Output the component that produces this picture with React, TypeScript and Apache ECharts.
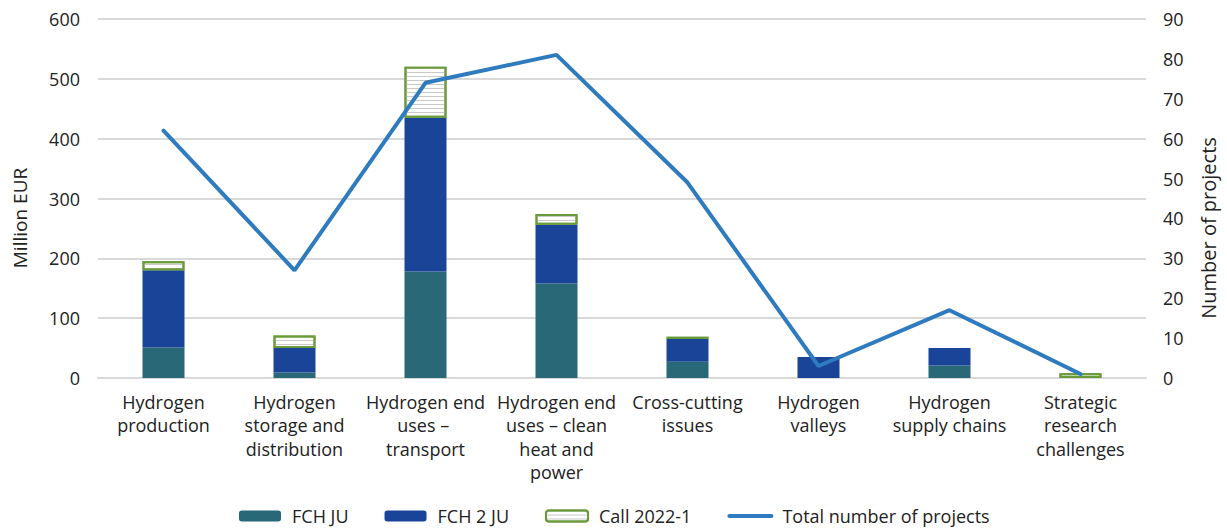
import React, { useEffect, useRef } from "react";
import * as echarts from "echarts";

const categories = [
  "Hydrogen\nproduction",
  "Hydrogen\nstorage and\ndistribution",
  "Hydrogen end\nuses – \ntransport",
  "Hydrogen end\nuses – clean\nheat and\npower",
  "Cross-cutting\nissues",
  "Hydrogen\nvalleys",
  "Hydrogen\nsupply chains",
  "Strategic\nresearch\nchallenges",
];
const fchJu = [51, 9, 178, 158, 27, 0, 21, 0];
const fch2Ju = [129, 41, 257, 98, 38, 35, 29, 0];
const call2022 = [15, 21, 85, 18, 4, 0, 0, 8];
const totalProjects = [62, 27, 74, 81, 49, 3, 17, 1];

const leftTicks = { min: 0, max: 600, interval: 100 };
const rightTicks = { min: 0, max: 90, interval: 10 };

const FONT = "'Open Sans', sans-serif";
const TEXT = "#222222";

const noZero = (arr: number[]) => arr.map((v) => (v === 0 ? "-" : v));

export default function App() {
  const ref = useRef<HTMLDivElement>(null);
  useEffect(() => {
    if (!ref.current) return;
    const chart = echarts.init(ref.current, undefined, { renderer: "svg" });
    chart.setOption({
      animation: false,
      textStyle: { fontFamily: FONT, color: TEXT },
      grid: { left: 98, right: 81, top: 19, bottom: 150, containLabel: false },
      legend: {
        left: 239,
        top: 505,
        padding: 0,
        itemWidth: 42,
        itemHeight: 11,
        itemGap: 36,
        textStyle: {
          fontFamily: FONT,
          fontSize: 18,
          lineHeight: 22,
          color: TEXT,
          padding: [0, 0, 0, 6],
        },
        data: [
          "FCH JU",
          "FCH 2 JU",
          "Call 2022-1",
          {
            name: "Total number of projects",
            itemStyle: { opacity: 0 },
            lineStyle: { color: "#2e7bbf", width: 4, cap: "round", opacity: 1 },
          },
        ],
      },
      xAxis: {
        type: "category",
        data: categories,
        axisLine: { lineStyle: { color: "#d9d9d9", width: 2 } },
        axisTick: { show: false },
        axisLabel: {
          interval: 0,
          margin: 12,
          fontFamily: FONT,
          fontSize: 18,
          lineHeight: 23.5,
          color: TEXT,
        },
      },
      yAxis: [
        {
          type: "value",
          ...leftTicks,
          axisLine: { show: false },
          axisTick: { show: false },
          splitLine: { lineStyle: { color: "#d9d9d9", width: 2 } },
          axisLabel: { margin: 18, fontFamily: FONT, fontSize: 18, color: TEXT },
        },
        {
          type: "value",
          ...rightTicks,
          position: "right",
          axisLine: { show: false },
          axisTick: { show: false },
          splitLine: { show: false },
          axisLabel: { margin: 17, fontFamily: FONT, fontSize: 18, color: TEXT },
        },
      ],
      graphic: [
        {
          type: "text",
          x: 20,
          y: 218,
          rotation: Math.PI / 2,
          style: {
            text: "Million EUR",
            fontFamily: FONT,
            fontSize: 19,
            fill: TEXT,
            textAlign: "center",
            textVerticalAlign: "middle",
          },
        },
        {
          type: "text",
          x: 1208,
          y: 228,
          rotation: Math.PI / 2,
          style: {
            text: "Number of projects",
            fontFamily: FONT,
            fontSize: 20,
            fill: TEXT,
            textAlign: "center",
            textVerticalAlign: "middle",
          },
        },
      ],
      series: [
        {
          name: "FCH JU",
          type: "bar",
          stack: "total",
          barWidth: 42,
          data: noZero(fchJu),
          itemStyle: { color: "#296876" },
        },
        {
          name: "FCH 2 JU",
          type: "bar",
          stack: "total",
          barWidth: 42,
          data: noZero(fch2Ju),
          itemStyle: { color: "#194497" },
        },
        {
          name: "Call 2022-1",
          type: "bar",
          stack: "total",
          barWidth: 42,
          data: noZero(call2022),
          itemStyle: {
            color: "#ffffff",
            borderColor: "#6a9a3a",
            borderWidth: 2,
            decal: {
              symbol: "rect",
              symbolSize: 1,
              color: "#c9c9c9",
              dashArrayX: [1, 0],
              dashArrayY: [1, 3],
              rotation: 0,
            },
          },
        },
        {
          name: "Total number of projects",
          type: "line",
          yAxisIndex: 1,
          data: totalProjects,
          symbol: "none",
          lineStyle: { color: "#2e7bbf", width: 4, cap: "round" },
          itemStyle: { color: "#2e7bbf" },
        },
      ],
    });
    return () => chart.dispose();
  }, []);
  return (
    <div
      ref={ref}
      style={{ position: "fixed", left: 0, top: 0, width: 1227, height: 528, background: "#fff" }}
    />
  );
}
